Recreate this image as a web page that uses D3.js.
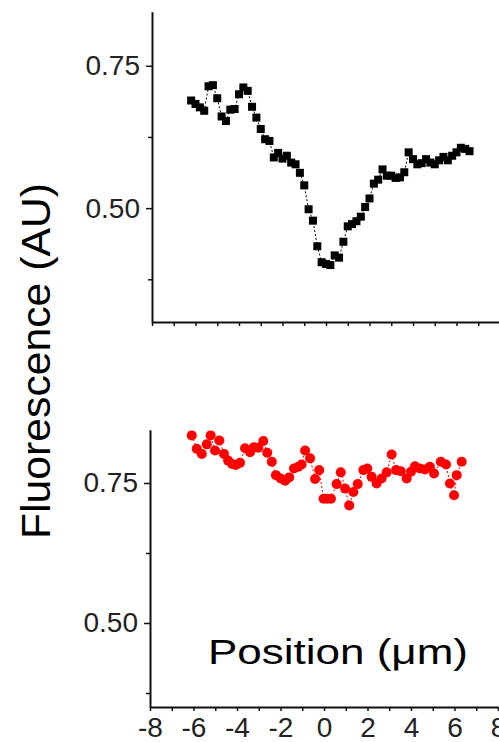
<!DOCTYPE html>
<html>
<head>
<meta charset="utf-8">
<script src="https://cdn.jsdelivr.net/npm/d3@7"></script>
<style>
  body { margin: 0; background: #fff; }
  svg { display: block; font-family: "Liberation Sans", Arial, sans-serif; }
  .axis path, .axis line { stroke: #111; }
  .axis path { stroke-width: 2; }
  .axis line { stroke-width: 1.5; }
  .axis text { fill: #222; font-size: 28px; }
</style>
</head>
<body>
<div id="chart"></div>
<script>
//////////
// DATA //
//////////

// top panel (black squares)
var topX = [-6.2, -6.0, -5.8, -5.6, -5.4, -5.2, -5.0, -4.8, -4.6, -4.4, -4.2, -4.0, -3.8, -3.6, -3.4, -3.2,
  -3.0, -2.8, -2.6, -2.4, -2.2, -2.0, -1.8, -1.6, -1.4, -1.2, -1.0, -0.8, -0.6, -0.4, -0.2, 0.0,
  0.2, 0.4, 0.6, 0.8, 1.0, 1.2, 1.4, 1.6, 1.8, 2.0, 2.2, 2.4, 2.6, 2.8, 3.0, 3.2,
  3.4, 3.6, 3.8, 4.0, 4.2, 4.4, 4.6, 4.8, 5.0, 5.2, 5.4, 5.6, 5.8, 6.0, 6.2, 6.4, 6.6];
var topY = [0.689, 0.683, 0.677, 0.671, 0.714, 0.716, 0.693, 0.661, 0.653, 0.673, 0.674, 0.700, 0.712, 0.706, 0.678, 0.659,
  0.639, 0.621, 0.618, 0.589, 0.597, 0.587, 0.592, 0.580, 0.577, 0.562, 0.540, 0.498, 0.478, 0.433, 0.405, 0.402,
  0.400, 0.417, 0.413, 0.441, 0.468, 0.472, 0.477, 0.485, 0.502, 0.517, 0.543, 0.550, 0.568, 0.557, 0.557, 0.553,
  0.554, 0.563, 0.598, 0.586, 0.577, 0.579, 0.586, 0.580, 0.577, 0.584, 0.590, 0.584, 0.592, 0.598, 0.606, 0.604, 0.600];

// bottom panel (red circles)
var botX = [-6.08, -5.85, -5.62, -5.39, -5.21, -5.01, -4.81, -4.60, -4.41, -4.23, -4.05, -3.86, -3.63, -3.40, -3.22, -3.02,
  -2.79, -2.61, -2.40, -2.21, -1.99, -1.79, -1.60, -1.38, -1.18, -1.03, -0.87, -0.64, -0.41, -0.22, -0.02, 0.14,
  0.32, 0.58, 0.77, 0.97, 1.16, 1.35, 1.55, 1.81, 1.99, 2.19, 2.42, 2.65, 2.88, 3.11, 3.31, 3.53,
  3.80, 4.00, 4.18, 4.41, 4.64, 4.87, 5.06, 5.37, 5.61, 5.79, 5.98, 6.10, 6.33];
var botY = [0.835, 0.811, 0.802, 0.819, 0.835, 0.808, 0.826, 0.802, 0.790, 0.784, 0.782, 0.786, 0.812, 0.805, 0.814, 0.813,
  0.825, 0.804, 0.788, 0.764, 0.758, 0.754, 0.760, 0.776, 0.779, 0.783, 0.808, 0.794, 0.757, 0.773, 0.722, 0.722,
  0.722, 0.748, 0.769, 0.740, 0.710, 0.734, 0.748, 0.773, 0.776, 0.761, 0.749, 0.758, 0.769, 0.801, 0.773, 0.771,
  0.758, 0.770, 0.780, 0.776, 0.774, 0.779, 0.767, 0.788, 0.783, 0.749, 0.728, 0.764, 0.788];

var xMajorTicks = [-8, -6, -4, -2, 0, 2, 4, 6, 8];
var xMinorTicks = [-7, -5, -3, -1, 1, 3, 5, 7];
var yMajorTicks = [0.50, 0.75];
var yMinorTicks = [0.375, 0.625];

/////////
// SVG //
/////////

var svgWidth = 499, svgHeight = 742;

var svg = d3.select("#chart").append("svg")
  .attr("width", svgWidth)
  .attr("height", svgHeight);

svg.append("rect").attr("width", svgWidth).attr("height", svgHeight).attr("fill", "#fff");

////////////
// SCALES //
////////////

var xTop = d3.scaleLinear().domain([-8, 8]).range([152, 500]);
var yTop = d3.scaleLinear().domain([0.30, 0.845]).range([322, 11.7]);

var xBot = d3.scaleLinear().domain([-8, 8]).range([150, 498]);
var yBot = d3.scaleLinear().domain([0.35, 0.845]).range([707, 429.8]);

//////////
// AXES //
//////////

var drawAxes = function(x, y, withLabels) {
  var y0 = y.range()[0], x0 = x.range()[0];

  svg.append("g").attr("class", "axis")
    .attr("transform", "translate(0," + y0 + ")")
    .call(d3.axisBottom(x).tickValues(xMajorTicks).tickSize(4).tickSizeOuter(0).tickPadding(6)
      .tickFormat(withLabels ? d3.format("d") : ""));
  svg.append("g").attr("class", "axis")
    .attr("transform", "translate(0," + y0 + ")")
    .call(d3.axisBottom(x).tickValues(xMinorTicks).tickSize(4).tickFormat(""))
    .select(".domain").remove();

  svg.append("g").attr("class", "axis")
    .attr("transform", "translate(" + x0 + ",0)")
    .call(d3.axisLeft(y).tickValues(yMajorTicks).tickSize(6).tickSizeOuter(0).tickPadding(6)
      .tickFormat(d3.format(".2f")));
  svg.append("g").attr("class", "axis")
    .attr("transform", "translate(" + x0 + ",0)")
    .call(d3.axisLeft(y).tickValues(yMinorTicks).tickSize(4).tickFormat(""))
    .select(".domain").remove();
};

drawAxes(xTop, yTop, false);
drawAxes(xBot, yBot, true);

// plain hyphen for negatives, like the original
svg.selectAll(".axis text").text(function() { return this.textContent.replace("\u2212", "-"); });

///////////
// MARKS //
///////////

var topData = topX.map(function(d, i) { return { x: d, y: topY[i] }; });
var botData = botX.map(function(d, i) { return { x: d, y: botY[i] }; });

svg.append("path")
  .datum(topData)
  .attr("fill", "none")
  .attr("stroke", "#000")
  .attr("stroke-width", 1)
  .attr("stroke-dasharray", "2,2")
  .attr("d", d3.line().x(function(d) { return xTop(d.x); }).y(function(d) { return yTop(d.y); }));

svg.selectAll(".sq")
  .data(topData)
  .enter().append("rect")
  .attr("class", "sq")
  .attr("x", function(d) { return xTop(d.x) - 4; })
  .attr("y", function(d) { return yTop(d.y) - 4; })
  .attr("width", 8)
  .attr("height", 8)
  .attr("fill", "#000");

svg.append("path")
  .datum(botData)
  .attr("fill", "none")
  .attr("stroke", "#f00")
  .attr("stroke-width", 1)
  .attr("stroke-dasharray", "2,2")
  .attr("d", d3.line().x(function(d) { return xBot(d.x); }).y(function(d) { return yBot(d.y); }));

svg.selectAll(".dot")
  .data(botData)
  .enter().append("circle")
  .attr("class", "dot")
  .attr("cx", function(d) { return xBot(d.x); })
  .attr("cy", function(d) { return yBot(d.y); })
  .attr("r", 5)
  .attr("fill", "#f00");

////////////
// LABELS //
////////////

svg.append("text")
  .attr("transform", "translate(50,361) rotate(-90)")
  .attr("text-anchor", "middle")
  .attr("font-size", 40)
  .attr("textLength", 356)
  .attr("lengthAdjust", "spacingAndGlyphs")
  .attr("fill", "#000")
  .text("Fluorescence (AU)");

svg.append("text")
  .attr("x", 208)
  .attr("y", 664)
  .attr("font-size", 35)
  .attr("textLength", 260)
  .attr("lengthAdjust", "spacingAndGlyphs")
  .attr("fill", "#000")
  .text("Position (\u03bcm)");
</script>
</body>
</html>
